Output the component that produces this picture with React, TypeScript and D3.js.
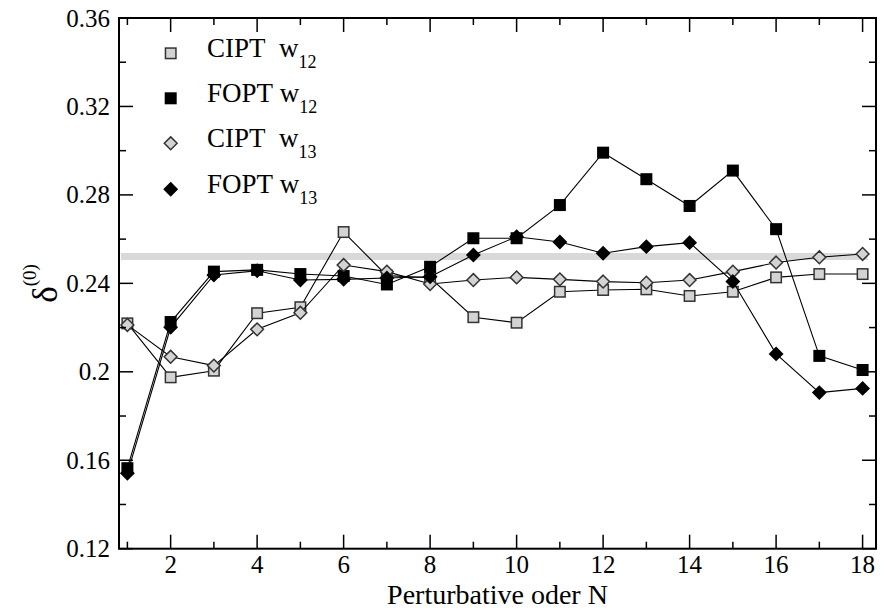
import React from "react";
import * as d3 from "d3";

const orders = [1, 2, 3, 4, 5, 6, 7, 8, 9, 10, 11, 12, 13, 14, 15, 16, 17, 18];
const ciptW12 = [0.2219, 0.1975, 0.2005, 0.2265, 0.2292, 0.2632, 0.2435, 0.2425, 0.2247, 0.2222, 0.2362, 0.237, 0.2373, 0.2343, 0.2362, 0.2427, 0.2442, 0.2442];
const foptW12 = [0.1564, 0.2225, 0.2453, 0.2461, 0.2442, 0.2433, 0.2395, 0.2475, 0.2604, 0.2604, 0.2754, 0.2991, 0.2871, 0.275, 0.291, 0.2645, 0.2072, 0.2008];
const ciptW13 = [0.2212, 0.2068, 0.2028, 0.2192, 0.2267, 0.2483, 0.2453, 0.2397, 0.2415, 0.2427, 0.2418, 0.2408, 0.2403, 0.2415, 0.2453, 0.2494, 0.2518, 0.2533];
const foptW13 = [0.1541, 0.2201, 0.2438, 0.2457, 0.2415, 0.2418, 0.2424, 0.243, 0.2528, 0.2611, 0.2587, 0.2536, 0.2566, 0.2584, 0.2408, 0.2081, 0.1906, 0.1925];

const seriesNames = ["CIPT\u00a0\u00a0w", "FOPT\u00a0w", "CIPT\u00a0\u00a0w", "FOPT\u00a0w"];
const seriesSubs = ["12", "12", "13", "13"];
const seriesShapes = ["square", "square", "diamond", "diamond"];
const seriesFills = ["#d3d3d3", "#000000", "#d3d3d3", "#000000"];

const yTicks = [0.12, 0.16, 0.2, 0.24, 0.28, 0.32, 0.36];
const yTickLabels = ["0.12", "0.16", "0.2", "0.24", "0.28", "0.32", "0.36"];
const yMinorTicks = [0.14, 0.18, 0.22, 0.26, 0.3, 0.34];
const xTicks = [2, 4, 6, 8, 10, 12, 14, 16, 18];
const xMinorTicks = [1, 3, 5, 7, 9, 11, 13, 15, 17];
const bandValue = 0.2521;
const bandRange = [0.85, 18.12];

const W = 888;
const H = 610;
const L = 119, R = 876, T = 18, B = 548.7;
const FONT = "'Liberation Serif', 'Times New Roman', serif";

function Marker({ shape, cx, cy, fill }: { shape: string; cx: number; cy: number; fill: string }) {
  const stroke = fill === "#000000" ? "#000" : "#333";
  if (shape === "square") {
    const s = 10.5;
    return <rect x={cx - s / 2} y={cy - s / 2} width={s} height={s} fill={fill} stroke={stroke} strokeWidth={1.5} />;
  }
  const r = 6.4;
  return (
    <path
      d={`M${cx},${cy - r}L${cx + r},${cy}L${cx},${cy + r}L${cx - r},${cy}Z`}
      fill={fill}
      stroke={stroke}
      strokeWidth={1.5}
    />
  );
}

export default function App() {
  const x = d3.scaleLinear().domain([0.806, 18.31]).range([L, R]);
  const y = d3.scaleLinear().domain([0.12, 0.36]).range([B, T]);
  const allSeries = [ciptW12, foptW12, ciptW13, foptW13];
  const line = d3
    .line<number>()
    .x((_, i) => x(orders[i]))
    .y((d) => y(d));

  const legendX = 170.7;
  const legendY = [53.3, 98.3, 143.3, 189.3];

  return (
    <svg width={W} height={H} style={{ position: "absolute", left: 0, top: 0, background: "#fff" }} fontFamily={FONT}>
      <rect x={0} y={0} width={W} height={H} fill="#fff" />
      {/* reference band */}
      <line x1={x(bandRange[0])} x2={x(bandRange[1])} y1={y(bandValue)} y2={y(bandValue)} stroke="#d9d9d9" strokeWidth={7} />

      {/* series */}
      {allSeries.map((s, si) => (
        <g key={si}>
          <path d={line(s) || ""} fill="none" stroke="#000" strokeWidth={1.1} />
          {s.map((v, i) => (
            <Marker key={i} shape={seriesShapes[si]} cx={x(orders[i])} cy={y(v)} fill={seriesFills[si]} />
          ))}
        </g>
      ))}

      {/* frame */}
      <rect x={L} y={T} width={R - L} height={B - T} fill="none" stroke="#000" strokeWidth={2} />

      {/* y ticks */}
      {yTicks.map((t, i) => (
        <g key={"yt" + i}>
          <line x1={L} x2={L + 14} y1={y(t)} y2={y(t)} stroke="#000" strokeWidth={1.5} />
          <line x1={R} x2={R - 14} y1={y(t)} y2={y(t)} stroke="#000" strokeWidth={1.5} />
          <text x={110} y={y(t) + 8.5} fontSize={25} textAnchor="end" fill="#000">
            {yTickLabels[i]}
          </text>
        </g>
      ))}
      {yMinorTicks.map((t, i) => (
        <g key={"ym" + i}>
          <line x1={L} x2={L + 7} y1={y(t)} y2={y(t)} stroke="#000" strokeWidth={1.5} />
          <line x1={R} x2={R - 7} y1={y(t)} y2={y(t)} stroke="#000" strokeWidth={1.5} />
        </g>
      ))}

      {/* x ticks */}
      {xTicks.map((t, i) => (
        <g key={"xt" + i}>
          <line x1={x(t)} x2={x(t)} y1={B} y2={B - 14} stroke="#000" strokeWidth={1.5} />
          <line x1={x(t)} x2={x(t)} y1={T} y2={T + 14} stroke="#000" strokeWidth={1.5} />
          <text x={x(t)} y={573} fontSize={25} textAnchor="middle" fill="#000">
            {String(t)}
          </text>
        </g>
      ))}
      {xMinorTicks.map((t, i) => (
        <g key={"xm" + i}>
          <line x1={x(t)} x2={x(t)} y1={B} y2={B - 7} stroke="#000" strokeWidth={1.5} />
          <line x1={x(t)} x2={x(t)} y1={T} y2={T + 7} stroke="#000" strokeWidth={1.5} />
        </g>
      ))}

      {/* axis titles */}
      <text x={(L + R) / 2} y={603.5} fontSize={28} textAnchor="middle" fill="#000">
        Perturbative oder N
      </text>
      <g transform="translate(57,283.5) rotate(-90)">
        <text x={0} y={0} textAnchor="middle" fill="#000">
          <tspan fontSize={35}>δ</tspan>
          <tspan fontSize={19} dy={-21}>(0)</tspan>
        </text>
      </g>

      {/* legend */}
      {seriesNames.map((n, i) => (
        <g key={"lg" + i}>
          <Marker shape={seriesShapes[i]} cx={legendX} cy={legendY[i]} fill={seriesFills[i]} />
          <text x={207} y={legendY[i] + 4} fontSize={27} fill="#000">
            {n}
            <tspan fontSize={18} dy={11}>
              {seriesSubs[i]}
            </tspan>
          </text>
        </g>
      ))}
    </svg>
  );
}
